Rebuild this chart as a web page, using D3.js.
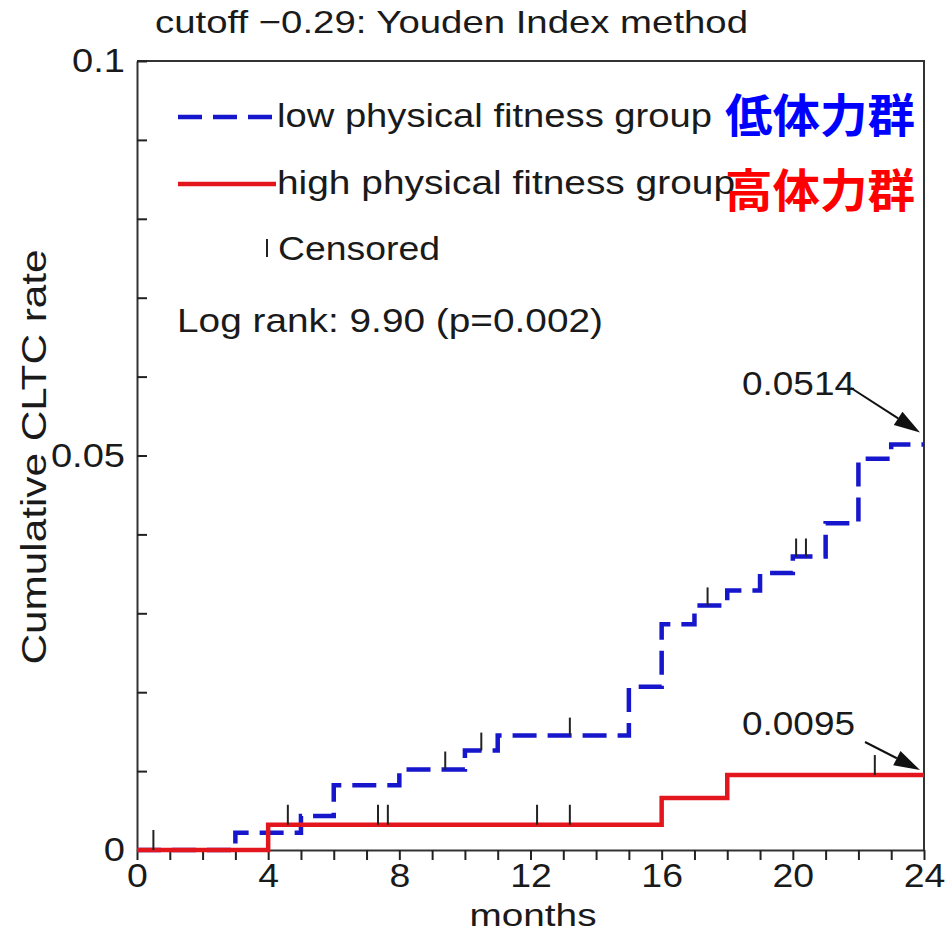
<!DOCTYPE html>
<html>
<head>
<meta charset="utf-8">
<script src="https://cdn.jsdelivr.net/npm/d3@7"></script>
<style>
  body { margin: 0; background: #fff; }
  text { font-family: "Liberation Sans", Arial, sans-serif; fill: #1a1a1a; }
</style>
</head>
<body>
<div id="chart"></div>
<script>
var svgWidth = 945;
var svgHeight = 932;

// Low physical fitness group (step function values)
var lowMonths = [0, 3, 5, 6, 8, 10, 11, 15, 16, 17, 18, 19, 20, 21, 22, 23, 24];
var lowRates = [0, 0.0022, 0.0043, 0.0082, 0.0102, 0.0126, 0.0145, 0.0207, 0.0286, 0.031, 0.0329, 0.0351, 0.0372, 0.0414, 0.0496, 0.0514, 0.0514];
var lowCensored = [9.4, 10.5, 13.2, 17.4, 20.1, 20.4];

// High physical fitness group
var highMonths = [0, 4, 16, 18, 24];
var highRates = [0, 0.0032, 0.0066, 0.0095, 0.0095];
var highCensored = [0.5, 4.6, 7.35, 7.65, 12.2, 13.2, 22.5];

var xTicks = d3.range(0, 25, 1);
var xLabels = [0, 4, 8, 12, 16, 20, 24];
var yTicks = d3.range(0, 0.1001, 0.01);
var yLabels = ["0", "0.05", "0.1"];

var margin = { top: 61, right: 21, bottom: 82, left: 137 };
var width = svgWidth - margin.left - margin.right;
var height = svgHeight - margin.top - margin.bottom;

var svg = d3.select("#chart")
    .append("svg")
    .attr("width", svgWidth)
    .attr("height", svgHeight);

var chartGroup = svg.append("g")
    .attr("transform", `translate(${margin.left}, ${margin.top})`);

var xScale = d3.scaleLinear().domain([0, 24]).range([0, width]);
var yScale = d3.scaleLinear().domain([0, 0.1]).range([height, 0]);

// fit a text element to a measured width
function fit(sel, w) {
    sel.attr("textLength", w).attr("lengthAdjust", "spacingAndGlyphs");
    return sel;
}

// frame: top and right border
chartGroup.append("path")
    .attr("d", `M0,0H${width}V${height}`)
    .attr("fill", "none")
    .attr("stroke", "#333")
    .attr("stroke-width", 2);

// axes
var bottomAxis = d3.axisBottom(xScale)
    .tickValues(xTicks)
    .tickSizeInner(10)
    .tickSizeOuter(0)
    .tickPadding(3)
    .tickFormat(d => xLabels.indexOf(d) >= 0 ? d : "");

var leftAxis = d3.axisLeft(yScale)
    .tickValues(yTicks)
    .tickSizeInner(-10)
    .tickSizeOuter(0)
    .tickPadding(12)
    .tickFormat(function (d) {
        var s = d3.format(".2~f")(d);
        return yLabels.indexOf(s) >= 0 ? s : "";
    });

var xAxisG = chartGroup.append("g")
    .attr("transform", `translate(0, ${height})`)
    .call(bottomAxis);

var yAxisG = chartGroup.append("g")
    .call(leftAxis);

[xAxisG, yAxisG].forEach(function (g) {
    g.selectAll("path.domain").attr("stroke", "#333").attr("stroke-width", 2);
    g.selectAll(".tick line").attr("stroke", "#222").attr("stroke-width", 2);
    g.selectAll(".tick text")
        .style("font-size", "34px")
        .attr("fill", "#1a1a1a")
        .style("font-family", "'Liberation Sans', Arial, sans-serif");
});
xAxisG.selectAll(".tick text").each(function () {
    var w = this.getComputedTextLength();
    if (w > 0) d3.select(this).attr("textLength", w * 1.1).attr("lengthAdjust", "spacingAndGlyphs");
});
yAxisG.selectAll(".tick text").each(function () {
    var w = this.getComputedTextLength();
    if (w > 0) d3.select(this).attr("textLength", w * 1.12).attr("lengthAdjust", "spacingAndGlyphs");
});

// step lines
var stepLine = d3.line()
    .x(d => xScale(d[0]))
    .y(d => yScale(d[1]))
    .curve(d3.curveStepAfter);

var lowData = lowMonths.map((m, i) => [m, lowRates[i]]);
var highData = highMonths.map((m, i) => [m, highRates[i]]);

chartGroup.append("path")
    .datum(lowData)
    .attr("d", stepLine)
    .attr("fill", "none")
    .attr("stroke", "#1616cc")
    .attr("stroke-width", 4.5)
    .attr("stroke-dasharray", "24,11");

chartGroup.append("path")
    .datum(highData)
    .attr("d", stepLine)
    .attr("fill", "none")
    .attr("stroke", "#e3161e")
    .attr("stroke-width", 4.5);

// censored marks
function stepValue(months, rates, t) {
    var i = d3.bisectRight(months, t) - 1;
    return rates[Math.max(0, i)];
}

chartGroup.selectAll(".censorLow")
    .data(lowCensored)
    .enter()
    .append("line")
    .attr("x1", d => xScale(d))
    .attr("x2", d => xScale(d))
    .attr("y1", d => yScale(stepValue(lowMonths, lowRates, d)))
    .attr("y2", d => yScale(stepValue(lowMonths, lowRates, d)) - 18)
    .attr("stroke", "#222")
    .attr("stroke-width", 2);

chartGroup.selectAll(".censorHigh")
    .data(highCensored)
    .enter()
    .append("line")
    .attr("x1", d => xScale(d))
    .attr("x2", d => xScale(d))
    .attr("y1", d => yScale(stepValue(highMonths, highRates, d)))
    .attr("y2", d => yScale(stepValue(highMonths, highRates, d)) - 20)
    .attr("stroke", "#222")
    .attr("stroke-width", 2);

// title
fit(svg.append("text")
    .attr("x", 155)
    .attr("y", 33)
    .style("font-size", "32px")
    .text("cutoff \u22120.29: Youden Index method"), 593);

// legend
svg.append("line")
    .attr("x1", 178).attr("x2", 272)
    .attr("y1", 117).attr("y2", 117)
    .attr("stroke", "#1616cc")
    .attr("stroke-width", 4.5)
    .attr("stroke-dasharray", "24,11");

svg.append("line")
    .attr("x1", 178).attr("x2", 276)
    .attr("y1", 184).attr("y2", 184)
    .attr("stroke", "#e3161e")
    .attr("stroke-width", 4.5);

svg.append("line")
    .attr("x1", 267).attr("x2", 267)
    .attr("y1", 239).attr("y2", 257)
    .attr("stroke", "#222")
    .attr("stroke-width", 2);

fit(svg.append("text").attr("x", 277).attr("y", 127)
    .style("font-size", "34px").text("low physical fitness group"), 435);
fit(svg.append("text").attr("x", 277).attr("y", 194)
    .style("font-size", "34px").text("high physical fitness group"), 458);
fit(svg.append("text").attr("x", 278).attr("y", 260)
    .style("font-size", "34px").text("Censored"), 162);
fit(svg.append("text").attr("x", 177).attr("y", 332)
    .style("font-size", "34px").text("Log rank: 9.90 (p=0.002)"), 426);

fit(svg.append("text").attr("x", 725).attr("y", 132)
    .style("font-size", "46px").style("font-weight", "bold")
    .style("font-family", "'Noto Sans CJK JP', sans-serif")
    .style("fill", "#0000ff").text("低体力群"), 190);
fit(svg.append("text").attr("x", 725).attr("y", 207)
    .style("font-size", "46px").style("font-weight", "bold")
    .style("font-family", "'Noto Sans CJK JP', sans-serif")
    .style("fill", "#ff0000").text("高体力群"), 190);

// annotation arrows, head drawn as a filled triangle
function arrow(x1, y1, x2, y2) {
    var a = Math.atan2(y2 - y1, x2 - x1);
    var len = 26, half = 8;
    var bx = x2 - len * Math.cos(a), by = y2 - len * Math.sin(a);
    svg.append("line")
        .attr("x1", x1).attr("y1", y1)
        .attr("x2", bx).attr("y2", by)
        .attr("stroke", "#111").attr("stroke-width", 2);
    svg.append("path")
        .attr("d", d3.line()([
            [x2, y2],
            [bx + half * Math.sin(a), by - half * Math.cos(a)],
            [bx - half * Math.sin(a), by + half * Math.cos(a)]
        ]) + "Z")
        .attr("fill", "#111");
}

var endX = margin.left + xScale(24) - 4;

fit(svg.append("text").attr("x", 742).attr("y", 395)
    .style("font-size", "34px").text(d3.format(".4f")(lowRates[lowRates.length - 1])), 113);
arrow(851, 388, endX, margin.top + yScale(lowRates[lowRates.length - 1]) - 12);

fit(svg.append("text").attr("x", 742).attr("y", 735)
    .style("font-size", "34px").text(d3.format(".4f")(highRates[highRates.length - 1])), 113);
arrow(865, 742, endX, margin.top + yScale(highRates[highRates.length - 1]) - 5);

// axes labels
fit(svg.append("text")
    .attr("transform", "translate(46, 457) rotate(-90)")
    .attr("text-anchor", "middle")
    .style("font-size", "35px")
    .text("Cumulative CLTC rate"), 415);

fit(svg.append("text")
    .attr("x", 533)
    .attr("y", 926)
    .attr("text-anchor", "middle")
    .style("font-size", "32px")
    .text("months"), 127);
</script>
</body>
</html>
